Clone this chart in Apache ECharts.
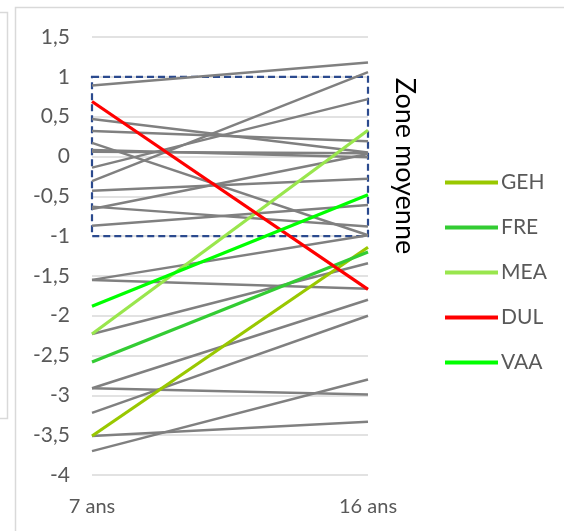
<!DOCTYPE html>
<html>
<head>
<meta charset="utf-8">
<script src="https://cdn.jsdelivr.net/npm/echarts@6/dist/echarts.min.js"></script>
<style>
  html, body { margin: 0; padding: 0; background: #fff; }
  #chart { width: 564px; height: 531px; }
</style>
</head>
<body>
<div id="chart"></div>
<script>
// Age points on the horizontal axis
const ages = ['7 ans', '16 ans'];
// Same ages as numbers, used by the hidden helper axis for the "zone moyenne" box
const ageYears = [7, 16];

// Highlighted subjects: score at 7 and at 16 years
const named = ['GEH', 'FRE', 'MEA', 'DUL', 'VAA'];
const namedAt7 = [-3.51, -2.58, -2.23, 0.69, -1.88];
const namedAt16 = [-1.14, -1.20, 0.33, -1.67, -0.48];
const namedColors = ['#99C800', '#33CC33', '#99E64D', '#FF0000', '#00FF00'];

// Other subjects (grey), paired by index
const grayAt7 = [0.89, 0.47, 0.32, 0.17, 0.08, 0.06, -0.14, -0.31, -0.43, -0.63,
                 -0.66, -0.87, -1.55, -1.55, -2.23, -2.91, -2.91, -3.22, -3.51, -3.70];
const grayAt16 = [1.18, 0.05, 0.19, -0.99, -0.01, 0.04, 0.72, 1.06, -0.28, -0.88,
                  0.03, -0.61, -0.99, -1.66, -1.34, -1.80, -2.99, -2.00, -3.33, -2.80];

// Average zone bounds (score)
const zoneTop = 1;
const zoneBottom = -1;

const FONT = 'Lato';
const TXT = '#595959';

const series = [];
grayAt7.forEach((v, i) => {
  series.push({
    name: 'autre' + i,
    type: 'line',
    data: [v, grayAt16[i]],
    symbol: 'none',
    silent: true,
    lineStyle: { color: '#808080', width: 2.5 },
    z: 2
  });
});
named.forEach((n, i) => {
  series.push({
    name: n,
    type: 'line',
    data: [namedAt7[i], namedAt16[i]],
    symbol: 'none',
    color: namedColors[i],
    lineStyle: { color: namedColors[i], width: 3.2 },
    z: 3
  });
});
// Dashed box marking the average zone
series.push({
  name: 'zone',
  type: 'line',
  xAxisIndex: 1,
  data: [],
  silent: true,
  markArea: {
    silent: true,
    itemStyle: {
      color: 'rgba(0,0,0,0)',
      borderColor: '#2B4A8E',
      borderWidth: 2.2,
      borderType: [7, 4]
    },
    data: [[
      { xAxis: ageYears[0] - 0.2, yAxis: zoneTop },
      { xAxis: ageYears[1] + 0.12, yAxis: zoneBottom }
    ]]
  },
  z: 4
});

const chart = echarts.init(document.getElementById('chart'));
chart.setOption({
  animation: false,
  backgroundColor: '#ffffff',
  grid: { left: 92, right: 196, top: 37, bottom: 56 },
  xAxis: [{
    type: 'category',
    data: ages,
    boundaryGap: false,
    axisLine: { show: false },
    axisTick: { show: false },
    splitLine: { show: false },
    axisLabel: { color: TXT, fontFamily: FONT, fontSize: 20, margin: 22 }
  }, {
    type: 'value',
    min: ageYears[0],
    max: ageYears[1],
    show: false
  }],
  yAxis: {
    type: 'value',
    min: -4,
    max: 1.5,
    interval: 0.5,
    axisLine: { show: false },
    axisTick: { show: false },
    splitLine: { lineStyle: { color: '#D9D9D9', width: 1.5 } },
    axisLabel: {
      color: TXT, fontFamily: FONT, fontSize: 21, margin: 22,
      formatter: v => String(v).replace('.', ',')
    }
  },
  legend: {
    data: named,
    orient: 'vertical',
    left: 440,
    top: 167,
    icon: 'rect',
    itemWidth: 53,
    itemHeight: 4,
    itemGap: 24,
    textStyle: { color: TXT, fontFamily: FONT, fontSize: 21, padding: [0, 0, 0, -2] }
  },
  graphic: [
    {
      type: 'rect',
      shape: { x: 15.5, y: 7.5, width: 560, height: 540 },
      style: { fill: 'none', stroke: '#D9D9D9', lineWidth: 1.5 },
      silent: true
    },
    {
      type: 'rect',
      shape: { x: -20, y: 12.5, width: 27.5, height: 406 },
      style: { fill: 'none', stroke: '#D9D9D9', lineWidth: 1.5 },
      silent: true
    },
    {
      type: 'text',
      x: 405,
      y: 166,
      rotation: -Math.PI / 2,
      style: {
        text: 'Zone moyenne',
        fill: '#000000',
        font: '27px ' + FONT,
        textAlign: 'center',
        textVerticalAlign: 'middle'
      }
    }
  ],
  series: series
});
</script>
</body>
</html>
